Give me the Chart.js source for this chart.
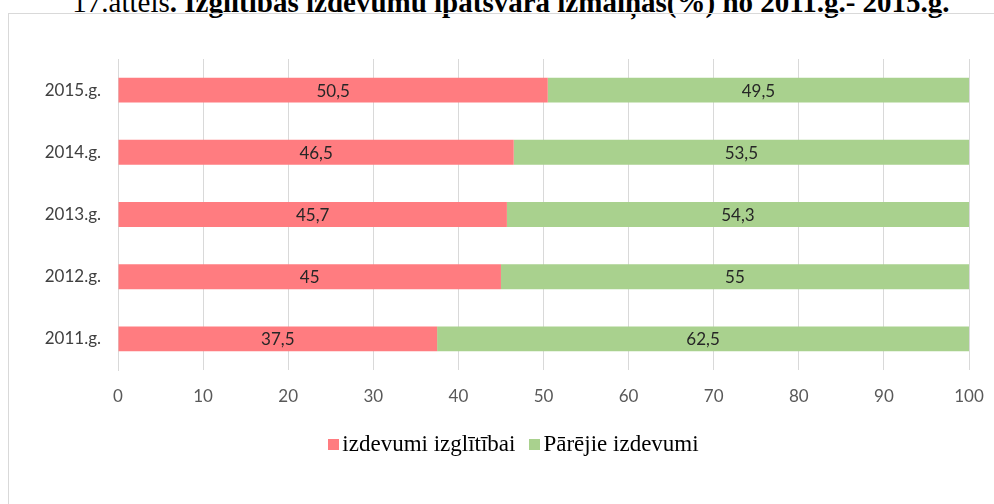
<!DOCTYPE html>
<html>
<head>
<meta charset="utf-8">
<script src="https://cdn.jsdelivr.net/npm/chart.js@4"></script>
<style>
  body { margin: 0; background: #fff; width: 994px; height: 504px; overflow: hidden; position: relative; }
  #title { position: absolute; left: 0; width: 1022px; top: -14px; text-align: center; font-family: "Liberation Serif", serif; font-size: 29px; white-space: nowrap; color: #000; }
  #frame { position: absolute; left: 8px; top: 13px; width: 1000px; height: 500px; border: 1px solid #d9d9d9; box-sizing: border-box; }
  #wrap { position: absolute; left: 0; top: 0; width: 994px; height: 504px; }
  #legend { position: absolute; left: 0; width: 1027px; top: 431px; text-align: center; font-family: "Liberation Serif", serif; font-size: 23px; color: #000; white-space: nowrap; }
  #legend span.item { margin: 0 7px; }
  #legend i { display: inline-block; width: 11px; height: 11px; margin-right: 3px; vertical-align: 1px; }
</style>
</head>
<body>
<div id="title">17.attēls<b>. Izglītības izdevumu īpatsvara izmaiņas(%) no 2011.g.- 2015.g.</b></div>
<div id="frame"></div>
<div id="wrap"><canvas id="myChart"></canvas></div>
<div id="legend"></div>
<script>
'use strict';

//chart data
let years = ['2015.g.', '2014.g.', '2013.g.', '2012.g.', '2011.g.'];
let educationShare = [50.5, 46.5, 45.7, 45, 37.5];
let otherShare = [49.5, 53.5, 54.3, 55, 62.5];
let seriesNames = ['izdevumi izglītībai', 'Pārējie izdevumi'];
let seriesColors = ['#ff7c80', '#a9d18e'];

//labels inside the bars
let barLabels = {
  id: 'barLabels',
  afterDatasetsDraw(chart){
    let ctx = chart.ctx;
    ctx.save();
    ctx.font = '17px Lato, "Open Sans", sans-serif';
    ctx.fillStyle = '#262626';
    ctx.textAlign = 'center';
    ctx.textBaseline = 'middle';
    chart.data.datasets.forEach((ds, i) => {
      chart.getDatasetMeta(i).data.forEach((bar, j) => {
        let text = String(ds.data[j]).replace('.', ',');
        ctx.fillText(text, (bar.x + bar.base) / 2, bar.y + 1);
      });
    });
    ctx.restore();
  }
};

const ctx = document.getElementById('myChart');
let chart = new Chart(ctx, {
  type: 'bar',
  data: {
    labels: years,
    datasets: [{
      label: seriesNames[0],
      data: educationShare,
      backgroundColor: seriesColors[0],
      barPercentage: 0.4,
      categoryPercentage: 1
    },
    {
      label: seriesNames[1],
      data: otherShare,
      backgroundColor: seriesColors[1],
      barPercentage: 0.4,
      categoryPercentage: 1
    }]
  },
  options: {
    indexAxis: 'y',
    responsive: true,
    maintainAspectRatio: false,
    animation: false,
    layout: { padding: { left: 0, right: 25, top: 59, bottom: 77 } },
    scales: {
      x: {
        stacked: true,
        min: 0,
        max: 100,
        ticks: { stepSize: 10, padding: 16, color: '#595959', font: { family: 'Lato, "Open Sans", sans-serif', size: 17 } },
        grid: { color: '#d9d9d9', drawTicks: false },
        border: { display: false },
        afterFit(scale){
          scale.height = 57;
          scale.paddingLeft = 0;
          scale.paddingRight = 0;
        }
      },
      y: {
        stacked: true,
        ticks: { padding: 17, color: '#404040', font: { family: 'Lato, "Open Sans", sans-serif', size: 17 } },
        grid: { display: false, drawTicks: false },
        border: { color: '#d9d9d9' },
        afterFit(scale){ scale.width = 118; }
      }
    },
    plugins: {
      tooltip: { enabled: false },
      legend: { display: false }
    }
  },
  plugins: [barLabels]
});

//legend
let legendBox = document.getElementById('legend');
chart.data.datasets.forEach(ds => {
  let item = document.createElement('span');
  item.className = 'item';
  let box = document.createElement('i');
  box.style.background = ds.backgroundColor;
  item.appendChild(box);
  item.appendChild(document.createTextNode(ds.label));
  legendBox.appendChild(item);
});
</script>
</body>
</html>
